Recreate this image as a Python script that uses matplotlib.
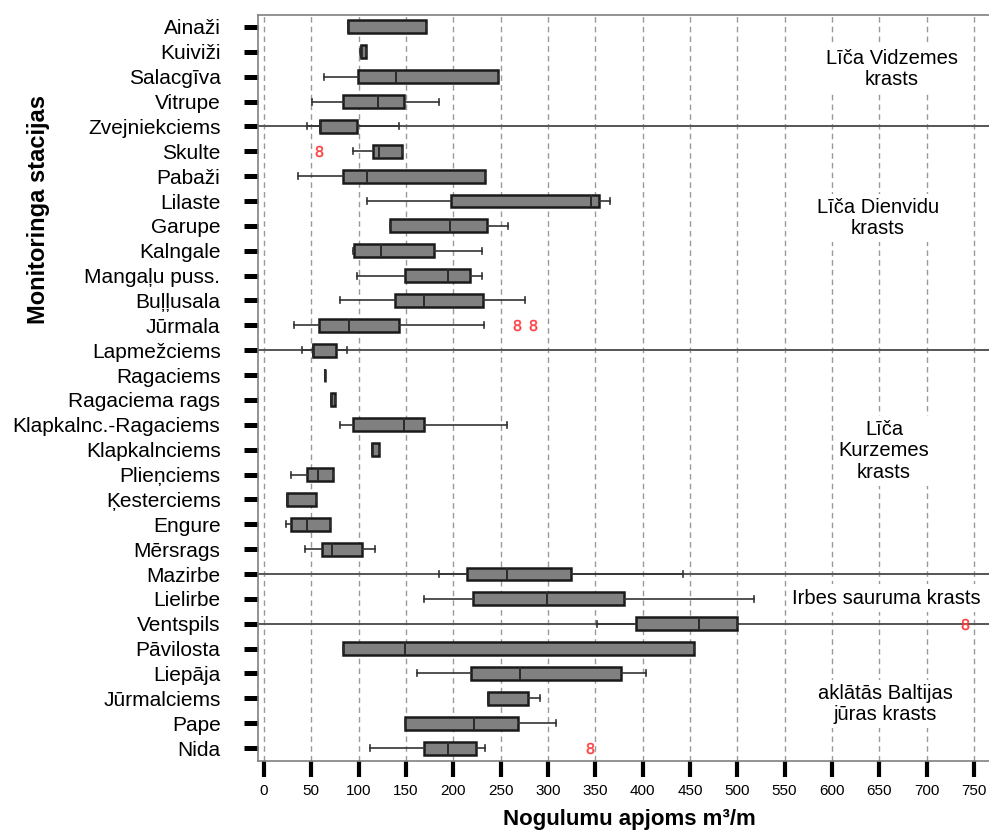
import matplotlib
matplotlib.use("Agg")
import matplotlib.pyplot as plt

plt.rcParams['font.family'] = ['Liberation Sans', 'DejaVu Sans']

stations = ["Ainaži", "Kuiviži", "Salacgīva", "Vitrupe", "Zvejniekciems", "Skulte",
            "Pabaži", "Lilaste", "Garupe", "Kalngale", "Mangaļu puss.", "Buļļusala",
            "Jūrmala", "Lapmežciems", "Ragaciems", "Ragaciema rags",
            "Klapkalnc.-Ragaciems", "Klapkalnciems", "Plieņciems", "Ķesterciems",
            "Engure", "Mērsrags", "Mazirbe", "Lielirbe", "Ventspils", "Pāvilosta",
            "Liepāja", "Jūrmalciems", "Pape", "Nida"]

whis_lo = [89, 101.5, 63, 51, 45, 94, 36, 109, 133, 94, 98, 80, 32, 40.5, 65, 71,
           80, 114, 29, 24, 23, 43.5, 185, 169, 352, 83, 162, 237, 149.5, 112]
q1 = [89, 102, 99, 84, 59.5, 115.5, 83, 198, 133, 95.5, 149.5, 138, 58.5, 52, 65, 71,
      94, 114, 45, 24, 29, 61.5, 214.5, 221, 393, 83, 219, 237, 149.5, 169]
med = [89, 103, 140, 120, 59.5, 122, 109, 345, 197, 124, 194.5, 169, 89.5, 52, 65, 71,
       148, 114, 57.5, 24, 45.5, 71.5, 256.5, 299, 460, 149.5, 270, 237, 222, 194.5]
q3 = [171, 107.7, 247, 148, 98, 146, 234, 354, 236, 180, 217.5, 231, 143, 76.5, 65, 75,
      169, 122, 73, 55, 70, 104, 324.5, 380, 500, 454.5, 377, 278.5, 268, 224]
whis_hi = [171, 107.7, 247, 185, 143, 146, 234, 366, 258, 230, 230, 276, 232, 88, 65, 75,
           257, 122, 73, 55, 70, 117, 443, 518, 500, 454.5, 404, 292, 309, 234]
outliers = {"Skulte": [58], "Jūrmala": [267, 284.5], "Ventspils": [741], "Nida": [344]}

# rows where the coast sections are split
section_rows = ["Zvejniekciems", "Lapmežciems", "Mazirbe", "Ventspils"]
sections = [("Līča Vidzemes\nkrasts", 892, 69),
            ("Līča Dienvidu\nkrasts", 878, 218),
            ("Līča\nKurzemes\nkrasts", 884, 451),
            ("Irbes sauruma krasts", 886, 598),
            ("aklātās Baltijas\njūras krasts", 885, 704)]

W, H = 989, 832
fig = plt.figure(figsize=(W / 100, H / 100), dpi=100)
ax = fig.add_axes([258 / W, 1 - 761 / H, 1 - 258 / W, (761 - 15) / H])

positions = list(range(1, len(stations) + 1))
stats = []
for i, name in enumerate(stations):
    stats.append({"label": name, "whislo": whis_lo[i], "q1": q1[i], "med": med[i],
                  "q3": q3[i], "whishi": whis_hi[i], "fliers": outliers.get(name, [])})

ax.bxp(stats, positions=positions, orientation='horizontal', widths=0.52,
       capwidths=0.24, patch_artist=True,
       boxprops=dict(facecolor='#808080', edgecolor='#1a1a1a', linewidth=1.8),
       medianprops=dict(color='#2a2a2a', linewidth=1.4),
       whiskerprops=dict(color='#333333', linewidth=1.2),
       capprops=dict(color='#333333', linewidth=1.2),
       flierprops=dict(marker='$8$', markersize=8, markerfacecolor='#ff4040',
                       markeredgecolor='#ff4040', markeredgewidth=0.3, linestyle='none'),
       zorder=3)

for name in section_rows:
    ax.axhline(stations.index(name) + 1, color='#555555', lw=1.4, zorder=1)

ticks = list(range(0, 751, 50))
for t in ticks:
    ax.axvline(t, color='#999999', lw=1, ls=(0, (4, 3)), zorder=0)

ax.set_xlim(-6.3, 766)
ax.set_ylim(30.52, 0.52)
ax.set_xticks(ticks)
ax.set_xticklabels([str(t) for t in ticks], fontsize=11)
ax.set_yticks(positions)
ax.set_yticklabels(stations, fontsize=15)
ax.tick_params(axis='y', length=10, width=3.6, color='black', pad=17)
ax.tick_params(axis='x', length=11.5, width=3, color='black', pad=5)
for s in ['left', 'top', 'bottom']:
    ax.spines[s].set_color('#808080')
    ax.spines[s].set_linewidth(1.2)
ax.spines['right'].set_visible(False)

for txt, px, py in sections:
    ax.text(px / W, 1 - py / H, txt, transform=fig.transFigure, ha='center',
            va='center', fontsize=14.5, linespacing=1.15, zorder=5,
            bbox=dict(facecolor='white', edgecolor='none', boxstyle='square,pad=0.2'))

fig.text(39 / W, 1 - 209 / H, "Monitoringa stacijas", rotation=90, ha='center',
         va='center', fontsize=17, fontweight='bold')
fig.text(629 / W, 1 - 820 / H, "Nogulumu apjoms m³/m", ha='center', va='center',
         fontsize=16, fontweight='bold')

fig.savefig("out.png", dpi=100)
